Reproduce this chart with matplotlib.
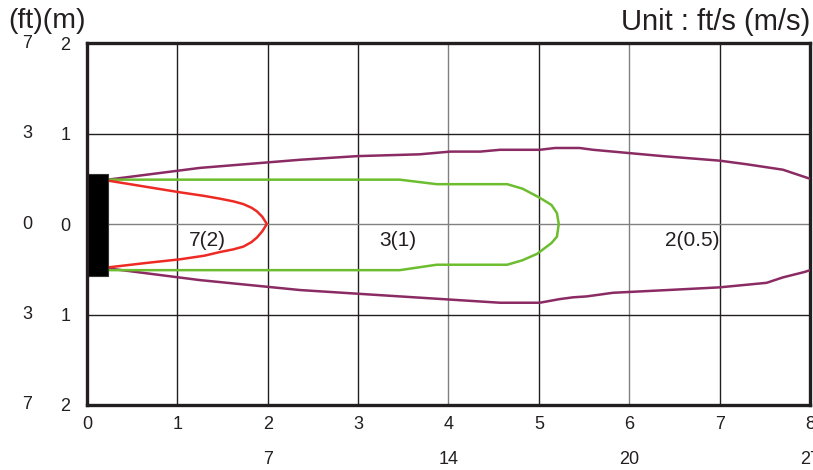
import matplotlib
matplotlib.use("Agg")
import matplotlib.pyplot as plt
from matplotlib.patches import Rectangle
import matplotlib.transforms as mtransforms

plt.rcParams['font.family'] = ['Liberation Sans', 'DejaVu Sans']

# Data (metres)
x_ticks_m = [0, 1, 2, 3, 4, 5, 6, 7, 8]
x_ft_pos = [2, 4, 6, 8]
x_ft_labels = ['7', '14', '20', '27']
y_ticks_m = [2, 1, 0, -1, -2]
y_m_labels = ['2', '1', '0', '1', '2']
y_ft_labels = ['7', '3', '0', '3', '7']

red_x_top = [0.23, 0.66, 1.03, 1.30, 1.47, 1.62, 1.73, 1.82, 1.88, 1.94, 1.99]
red_y_top = [0.48, 0.41, 0.35, 0.31, 0.28, 0.25, 0.22, 0.18, 0.14, 0.08, 0.0]
red_x_bot = [1.94, 1.88, 1.82, 1.73, 1.62, 1.47, 1.30, 1.03, 0.66, 0.23]
red_y_bot = [-0.08, -0.15, -0.20, -0.25, -0.28, -0.31, -0.35, -0.39, -0.43, -0.48]

green_x = [0.23, 3.46, 3.87, 4.65, 4.82, 5.01, 5.14, 5.20, 5.22, 5.20, 5.14, 4.98, 4.82, 4.65, 3.87, 3.46, 0.23]
green_y = [0.49, 0.49, 0.44, 0.44, 0.39, 0.29, 0.21, 0.12, 0.0, -0.14, -0.21, -0.33, -0.40, -0.45, -0.45, -0.51, -0.51]

purple_top_x = [0.23, 1.25, 2.36, 2.99, 3.68, 4.02, 4.35, 4.57, 5.01, 5.18, 5.45, 5.60, 5.82, 6.04, 6.37, 7.0, 7.30, 7.70, 8.0]
purple_top_y = [0.49, 0.62, 0.71, 0.75, 0.77, 0.80, 0.80, 0.82, 0.82, 0.84, 0.84, 0.82, 0.80, 0.78, 0.75, 0.70, 0.66, 0.60, 0.50]
purple_bot_x = [0.23, 1.25, 2.36, 3.46, 4.57, 5.01, 5.23, 5.38, 5.53, 5.82, 6.42, 7.0, 7.52, 7.70, 7.94, 8.0]
purple_bot_y = [-0.49, -0.62, -0.73, -0.80, -0.87, -0.87, -0.83, -0.81, -0.80, -0.76, -0.73, -0.70, -0.65, -0.59, -0.53, -0.51]

labels = ['7(2)', '3(1)', '2(0.5)']
label_x = [1.33, 3.44, 6.70]
label_y = [-0.18, -0.18, -0.18]

dark = '#231f20'
red = '#ee2a24'
green = '#6cbd2f'
purple = '#8b2b63'

fig = plt.figure(figsize=(8.13, 4.70), dpi=100)
ax = fig.add_axes([0.107, 0.1383, 0.8893, 0.7702])
ax.set_xlim(0, 8)
ax.set_ylim(-2, 2)

# grid
for xv in x_ticks_m[1:-1]:
    c = '#808080' if xv in (4, 6) else dark
    ax.axvline(xv, color=c, lw=1.0, zorder=1)
for yv in y_ticks_m[1:-1]:
    c = '#808080' if yv == 0 else dark
    ax.axhline(yv, color=c, lw=1.0, zorder=1)

ax.plot(purple_top_x, purple_top_y, color=purple, lw=1.8, zorder=3)
ax.plot(purple_bot_x, purple_bot_y, color=purple, lw=1.8, zorder=3)
ax.plot(green_x, green_y, color=green, lw=1.8, zorder=3)
ax.plot(red_x_top + red_x_bot, red_y_top + red_y_bot, color=red, lw=1.8, zorder=3)

ax.add_patch(Rectangle((0, -0.58), 0.23, 1.13, facecolor='black', edgecolor='#333333', lw=0.8, zorder=4))

for t, xv, yv in zip(labels, label_x, label_y):
    ax.text(xv, yv, t, ha='center', va='center', fontsize=15, color=dark, zorder=5)

for s in ax.spines.values():
    s.set_linewidth(2.4)
    s.set_color(dark)
ax.spines['left'].set_zorder(6)

ax.set_xticks(x_ticks_m)
ax.set_xticklabels([str(v) for v in x_ticks_m], fontsize=13, color=dark)
ax.set_yticks(y_ticks_m)
ax.set_yticklabels(y_m_labels, fontsize=13, color=dark)
ax.tick_params(length=0, pad=8)
ax.tick_params(axis='y', pad=12)

trans_x = mtransforms.blended_transform_factory(ax.transData, fig.transFigure)
for xv, t in zip(x_ft_pos, x_ft_labels):
    ax.text(xv, (470 - 460) / 470, t, transform=trans_x, ha='center', va='center', fontsize=13, color=dark, clip_on=False)

trans_y = mtransforms.blended_transform_factory(fig.transFigure, ax.transData)
for yv, t in zip(y_ticks_m, y_ft_labels):
    ax.text(27 / 813, yv, t, transform=trans_y, ha='center', va='center', fontsize=13, color=dark, clip_on=False)

fig.text(8 / 813, 1 - 21 / 470, '(ft)(m)', ha='left', va='center', fontsize=20.5, color=dark)
fig.text(810 / 813, 1 - 22 / 470, 'Unit : ft/s (m/s)', ha='right', va='center', fontsize=21, color=dark)

fig.savefig('out.png', dpi=100)
